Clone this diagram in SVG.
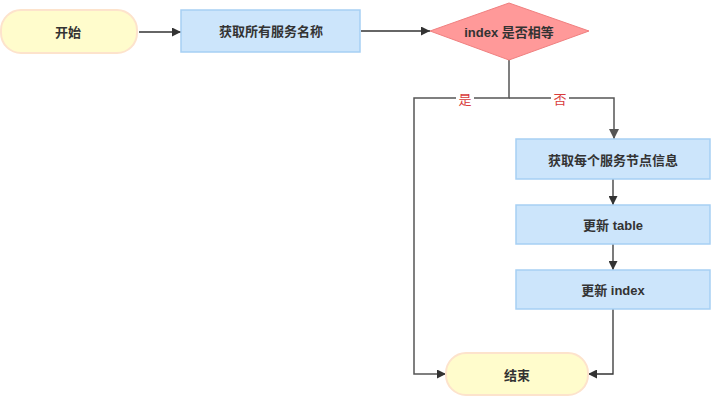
<svg xmlns="http://www.w3.org/2000/svg" width="715" height="402" viewBox="0 0 715 402">
<style>
.t{font-family:"Liberation Sans","Noto Sans CJK SC",sans-serif;font-size:13px;font-weight:bold;fill:#333;text-anchor:middle;dominant-baseline:central}
.term{fill:#fffccc;stroke:#fde3cc;stroke-width:2}
.box{fill:#cce5fb;stroke:#a6cff4;stroke-width:1.5}
.c{fill:none;stroke:#333;stroke-width:1.3}
.c2{fill:none;stroke:#555;stroke-width:1.5}
.lbl{font-family:"Liberation Sans","Noto Sans CJK SC",sans-serif;font-size:13px;fill:#d83b3b;text-anchor:middle;dominant-baseline:central}
</style>
<defs>
<marker id="a" viewBox="0 0 10 10" refX="10" refY="5" markerWidth="9" markerHeight="9" markerUnits="userSpaceOnUse" orient="auto"><path d="M0,0L10,5L0,10z" fill="#333"/></marker>
<marker id="b" viewBox="0 0 10 10" refX="10" refY="5" markerWidth="10" markerHeight="10" markerUnits="userSpaceOnUse" orient="auto"><path d="M0,0L10,5L0,10z" fill="#555"/></marker>
</defs>
<rect width="715" height="402" fill="#fff"/>
<g id="connectors">
<path class="c" d="M139,32H181" marker-end="url(#a)"/>
<path class="c" d="M361,31H430" marker-end="url(#a)"/>
<path class="c2" d="M509,60V98H414V374H446" marker-end="url(#a)"/>
<path class="c2" d="M509,98H614V139" marker-end="url(#b)"/>
<path class="c" d="M613,179V205" marker-end="url(#a)"/>
<path class="c" d="M613,244V270" marker-end="url(#a)"/>
<path class="c" d="M613,309V374H588" marker-end="url(#a)"/>
<rect x="456" y="91" width="18" height="16" fill="#fff"/>
<text class="lbl" x="465" y="99">是</text>
<rect x="551" y="91" width="18" height="16" fill="#fff"/>
<text class="lbl" x="560" y="99">否</text>
</g>
<g id="start">
<rect class="term" x="1" y="10" width="136" height="43" rx="20"/>
<text class="t" x="68" y="32">开始</text>
</g>
<g id="getNames">
<rect class="box" x="181" y="10" width="179" height="42"/>
<text class="t" x="271" y="31">获取所有服务名称</text>
</g>
<g id="decision">
<path d="M509,3L589,31L509,60L430,31Z" fill="#ff9999" stroke="#f08080" stroke-width="1"/>
<text class="t" x="509" y="32">index 是否相等</text>
</g>
<g id="getNodes">
<rect class="box" x="516" y="139" width="194" height="40"/>
<text class="t" x="613" y="160">获取每个服务节点信息</text>
</g>
<g id="updateTable">
<rect class="box" x="516" y="205" width="194" height="39"/>
<text class="t" x="613" y="225">更新 table</text>
</g>
<g id="updateIndex">
<rect class="box" x="516" y="270" width="194" height="39"/>
<text class="t" x="613" y="290">更新 index</text>
</g>
<g id="end">
<rect class="term" x="446" y="353" width="142" height="42" rx="20"/>
<text class="t" x="517" y="375">结束</text>
</g>
</svg>
